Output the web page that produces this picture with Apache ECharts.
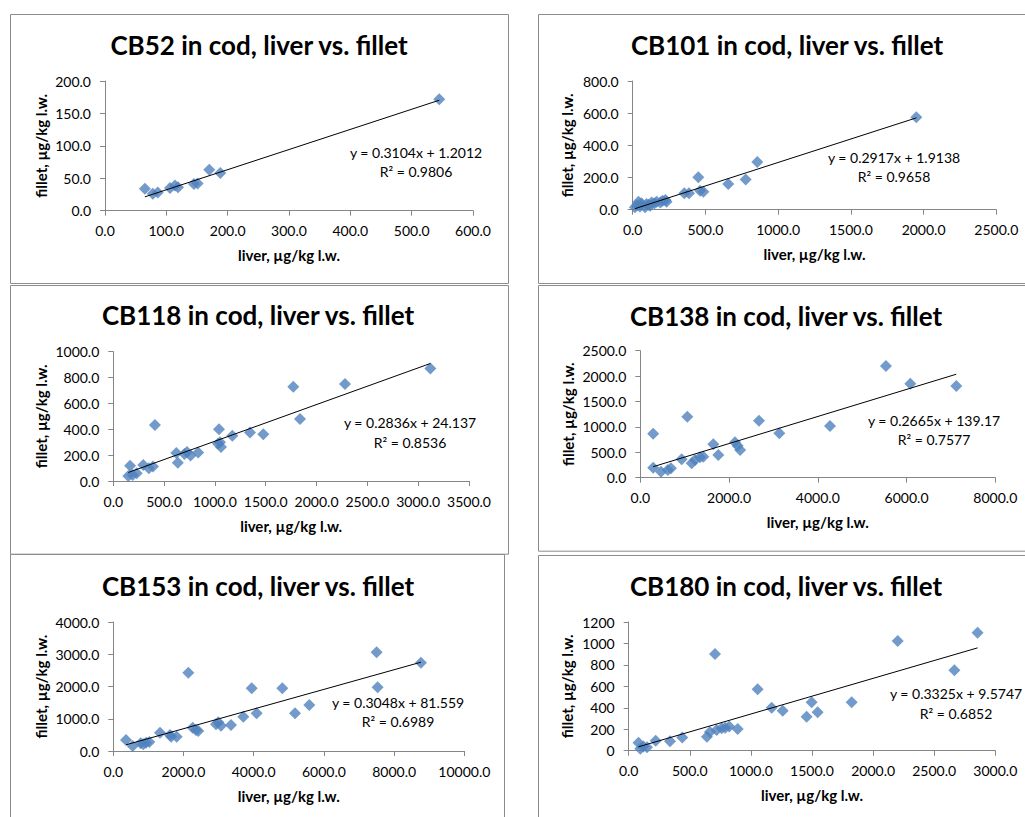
<!DOCTYPE html>
<html><head><meta charset="utf-8">
<script src="https://cdn.jsdelivr.net/npm/echarts@6/dist/echarts.min.js"></script>
<style>html,body{margin:0;padding:0;background:#fff}#c{width:1025px;height:817px}</style>
</head><body><div id="c"></div>
<script>
// ---------- data ----------
const titles = ['CB52 in cod, liver vs. fillet','CB101 in cod, liver vs. fillet','CB118 in cod, liver vs. fillet',
                'CB138 in cod, liver vs. fillet','CB153 in cod, liver vs. fillet','CB180 in cod, liver vs. fillet'];
const xAxisName = 'liver, µg/kg l.w.';
const yAxisName = 'fillet, µg/kg l.w.';

const cb52Liver  = [65,78,86,106,114,119,145,151,170,188,545];
const cb52Fillet = [34,26,28,35,39,36,41,42,63,58,172];

const cb101Liver  = [15,30,40,50,60,85,95,110,120,130,150,165,190,205,225,233,355,387,451,463,486,657,777,857,1950];
const cb101Fillet = [15,28,50,20,40,15,35,30,25,45,40,50,45,55,60,50,102,102,201,118,112,160,187,296,574];

const cb118Liver  = [148,165,190,230,295,350,390,410,620,635,700,725,760,835,1030,1040,1050,1060,1171,1345,1476,1771,1837,2280,3120];
const cb118Fillet = [39,118,46,60,124,98,113,433,216,142,208,225,198,220,288,400,300,263,350,376,361,729,479,750,871];

const cb138Liver  = [290,290,466,620,690,932,1060,1158,1233,1345,1420,1645,1758,2134,2195,2250,2675,3133,4275,5536,6085,7121];
const cb138Fillet = [866,197,118,152,185,361,1201,283,348,401,414,657,447,697,630,545,1122,873,1017,2198,1850,1804];

const cb153Liver  = [362,552,780,855,931,1026,1330,1615,1650,1806,2137,2262,2356,2421,2926,2991,3068,3353,3704,3943,4085,4815,5177,5584,7502,7531,8765];
const cb153Fillet = [341,155,238,207,258,279,568,496,440,444,2429,723,651,620,827,889,786,806,1065,1944,1168,1944,1168,1426,3059,1974,2739];

const cb180Liver  = [80,95,120,150,221,338,438,640,665,706,720,761,790,823,892,1055,1170,1260,1456,1497,1546,1825,2201,2665,2855];
const cb180Fillet = [75,18,40,33,93,88,122,131,175,902,193,210,215,225,202,572,401,373,317,451,358,451,1023,749,1100];

const slopes     = [0.3104,0.2917,0.2836,0.2665,0.3048,0.3325];
const intercepts = [1.2012,1.9138,24.137,139.17,81.559,9.5747];
const equations  = ['y = 0.3104x + 1.2012','y = 0.2917x + 1.9138','y = 0.2836x + 24.137',
                    'y = 0.2665x + 139.17','y = 0.3048x + 81.559','y = 0.3325x + 9.5747'];
const rSquared   = ['R² = 0.9806','R² = 0.9658','R² = 0.8536','R² = 0.7577','R² = 0.6989','R² = 0.6852'];

const xMax  = [600,2500,3500,8000,10000,3000];
const xStep = [100,500,500,2000,2000,500];
const yMax  = [200,800,1000,2500,4000,1200];
const yStep = [50,200,200,500,1000,200];
const yDecimals = [1,1,1,1,1,0];

// ---------- layout / style ----------
const livers  = [cb52Liver,cb101Liver,cb118Liver,cb138Liver,cb153Liver,cb180Liver];
const fillets = [cb52Fillet,cb101Fillet,cb118Fillet,cb138Fillet,cb153Fillet,cb180Fillet];

const grids = [
  {left:105,   top:81,    width:368,   height:129.7},
  {left:632.7, top:81,    width:363.6, height:128.7},
  {left:113.3, top:351.7, width:355.7, height:129.3},
  {left:640.3, top:350.7, width:355,   height:127},
  {left:113.3, top:622,   width:351,   height:129},
  {left:628.7, top:622,   width:366.6, height:128.7}
];
const yNameGaps = [57,58,65,65,65,54];
const boxes = [
  [10,14,498,269],[538,14,500,269],
  [10,285,498,268.7],[538,285,500,265.7],
  [10,554,494,280],[538,555,500,280]
];
const titlePos = [[259,45],[787,45],[258,315],[786,316],[258,586],[786,586]];
const eqPos = [[416,152,171],[894,157,176],[410,422,442],[934,420,439],[398,702,721],[956,693,713]];

const FONT = 'Lato, "Open Sans", sans-serif';
const AXIS_COLOR = '#868686';

const option = {
  animation:false,
  backgroundColor:'#fff',
  grid: grids,
  xAxis: grids.map((g,i)=>({
    type:'value', gridIndex:i, min:0, max:xMax[i], interval:xStep[i],
    name:xAxisName, nameLocation:'middle', nameGap:37,
    nameTextStyle:{fontFamily:FONT,fontWeight:'bold',fontSize:15,color:'#000'},
    axisLine:{show:true,lineStyle:{color:AXIS_COLOR,width:1}},
    axisTick:{show:true,inside:false,length:5,lineStyle:{color:AXIS_COLOR}},
    splitLine:{show:false},
    axisLabel:{fontFamily:FONT,fontSize:14,color:'#000',margin:13,formatter:v=>v.toFixed(1)}
  })),
  yAxis: grids.map((g,i)=>({
    type:'value', gridIndex:i, min:0, max:yMax[i], interval:yStep[i],
    name:yAxisName, nameLocation:'middle', nameGap:yNameGaps[i], nameRotate:90,
    nameTextStyle:{fontFamily:FONT,fontWeight:'bold',fontSize:15,color:'#000'},
    axisLine:{show:true,lineStyle:{color:AXIS_COLOR,width:1}},
    axisTick:{show:true,inside:false,length:5,lineStyle:{color:AXIS_COLOR}},
    splitLine:{show:false},
    axisLabel:{fontFamily:FONT,fontSize:14,color:'#000',margin:14,formatter:v=>v.toFixed(yDecimals[i])}
  })),
  series: [],
  graphic: []
};

livers.forEach((lv,i)=>{
  option.series.push({
    type:'scatter', xAxisIndex:i, yAxisIndex:i,
    symbol:'diamond', symbolSize:12,
    itemStyle:{color:'#4F81BD'},
    data: lv.map((x,k)=>[x,fillets[i][k]])
  });
  const x0 = Math.min(...lv), x1 = Math.max(...lv);
  option.series.push({
    type:'line', xAxisIndex:i, yAxisIndex:i, symbol:'none',
    lineStyle:{color:'#000',width:1}, z:3,
    data:[[x0,slopes[i]*x0+intercepts[i]],[x1,slopes[i]*x1+intercepts[i]]]
  });
});

boxes.forEach(b=>{
  option.graphic.push({type:'rect',shape:{x:b[0]+0.5,y:b[1]+0.5,width:b[2],height:b[3]},
    style:{fill:'none',stroke:'#8c8c8c',lineWidth:1},z:0,silent:true});
});
titles.forEach((t,i)=>{
  option.graphic.push({type:'text',x:titlePos[i][0],y:titlePos[i][1],
    style:{text:t,font:'bold 26px '+FONT,fill:'#000',textAlign:'center',textVerticalAlign:'middle'}});
  option.graphic.push({type:'text',x:eqPos[i][0],y:eqPos[i][1],
    style:{text:equations[i],font:'14px '+FONT,fill:'#000',textAlign:'center',textVerticalAlign:'middle'}});
  option.graphic.push({type:'text',x:eqPos[i][0],y:eqPos[i][2],
    style:{text:rSquared[i],font:'14px '+FONT,fill:'#000',textAlign:'center',textVerticalAlign:'middle'}});
});

const chart = echarts.init(document.getElementById('c'),null,{renderer:'svg'});
chart.setOption(option);
</script>
</body></html>
